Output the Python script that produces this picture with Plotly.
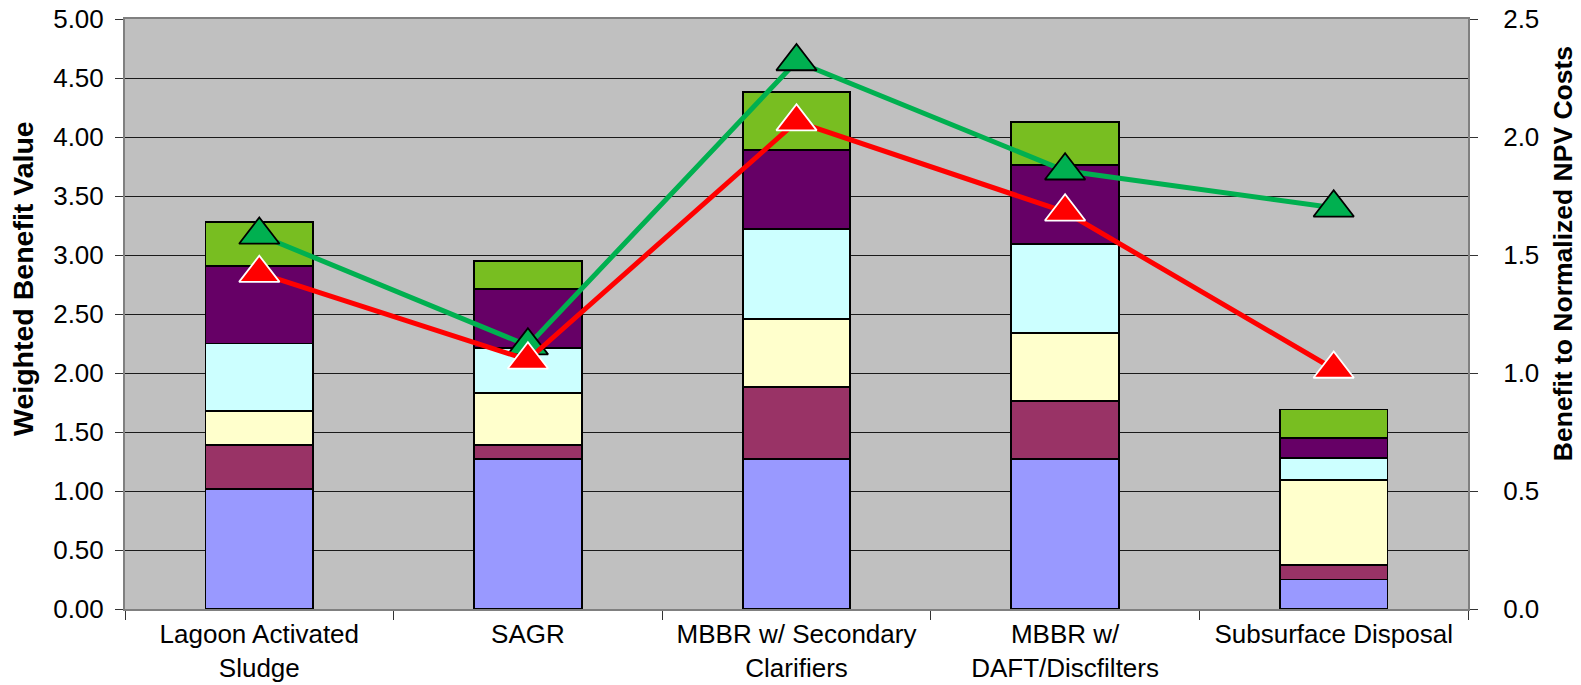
import plotly.graph_objects as go

# Treatment alternatives
categories = [
    "Lagoon Activated<br>Sludge",
    "SAGR",
    "MBBR w/ Secondary<br>Clarifiers",
    "MBBR w/<br>DAFT/Discfilters",
    "Subsurface Disposal",
]

# Weighted benefit components (stacked, bottom to top)
benefit_1 = [1.02, 1.27, 1.27, 1.27, 0.25]
benefit_2 = [0.37, 0.12, 0.61, 0.49, 0.12]
benefit_3 = [0.29, 0.44, 0.58, 0.58, 0.72]
benefit_4 = [0.57, 0.38, 0.76, 0.75, 0.19]
benefit_5 = [0.66, 0.50, 0.67, 0.67, 0.17]
benefit_6 = [0.37, 0.24, 0.49, 0.37, 0.24]

# Benefit to normalized NPV cost ratios (right axis)
ratio_green = [1.585, 1.116, 2.32, 1.857, 1.70]
ratio_red = [1.423, 1.056, 2.065, 1.683, 1.017]

left_ticks = [0, 0.5, 1, 1.5, 2, 2.5, 3, 3.5, 4, 4.5, 5]
right_ticks = [0, 0.5, 1, 1.5, 2, 2.5]

left_title = "Weighted Benefit Value"
right_title = "Benefit to Normalized NPV Costs"

FONT = "Arial, Liberation Sans, sans-serif"

stack = [
    ("Component 1", benefit_1, "#9999FF"),
    ("Component 2", benefit_2, "#993366"),
    ("Component 3", benefit_3, "#FFFFCC"),
    ("Component 4", benefit_4, "#CCFFFF"),
    ("Component 5", benefit_5, "#660066"),
    ("Component 6", benefit_6, "#78BE21"),
]

fig = go.Figure()
for name, vals, color in stack:
    fig.add_trace(go.Bar(
        x=categories, y=vals, name=name,
        marker=dict(color=color, line=dict(color="#000000", width=1.8)),
        yaxis="y",
    ))

fig.add_trace(go.Scatter(
    x=categories, y=ratio_green, mode="lines+markers", yaxis="y2",
    name="Ratio A",
    line=dict(color="#00B050", width=5),
    marker=dict(symbol="triangle-up", size=35, color="#00B050",
                line=dict(color="#000000", width=1.8)),
))
fig.add_trace(go.Scatter(
    x=categories, y=ratio_red, mode="lines+markers", yaxis="y2",
    name="Ratio B",
    line=dict(color="#FF0000", width=5),
    marker=dict(symbol="triangle-up", size=35, color="#FF0000",
                line=dict(color="#FFFFFF", width=1.8)),
))

# Axis titles placed as rotated annotations
fig.add_annotation(
    text=f"<b>{left_title}</b>", textangle=-90,
    xref="paper", yref="paper", x=-0.076, y=0.561,
    xanchor="center", yanchor="middle", showarrow=False,
    font=dict(family=FONT, size=28.5, color="#000000"),
)
fig.add_annotation(
    text=f"<b>{right_title}</b>", textangle=-90,
    xref="paper", yref="paper", x=1.0707, y=0.603,
    xanchor="center", yanchor="middle", showarrow=False,
    font=dict(family=FONT, size=26.5, color="#000000"),
)

fig.update_layout(
    width=1581, height=685,
    margin=dict(l=125, r=113, t=19, b=76),
    paper_bgcolor="#FFFFFF",
    plot_bgcolor="#C0C0C0",
    barmode="stack",
    bargap=0.6,
    showlegend=False,
    font=dict(family=FONT, size=26, color="#000000"),
    xaxis=dict(
        type="category", automargin=False,
        showline=True, linecolor="#808080", linewidth=2, mirror=True,
        ticks="outside", tickson="boundaries", ticklen=9, tickcolor="#333333",
        tickwidth=1,
        showgrid=False,
        tickfont=dict(family=FONT, size=26, color="#000000"),
        ticklabelstandoff=1,
    ),
    yaxis=dict(
        range=[0, 5], automargin=False,
        tickvals=left_ticks,
        ticktext=[f"{v:.2f}" for v in left_ticks],
        showline=True, linecolor="#808080", linewidth=2,
        ticks="outside", ticklen=8, tickcolor="#333333", tickwidth=1,
        showgrid=True, gridcolor="#1a1a1a", gridwidth=1,
        zeroline=False,
        tickfont=dict(family=FONT, size=26, color="#000000"),
        ticklabelstandoff=6,
    ),
    yaxis2=dict(
        range=[0, 2.5], automargin=False,
        overlaying="y", side="right",
        tickvals=right_ticks,
        ticktext=[f"{v:.1f}" for v in right_ticks],
        showline=True, linecolor="#808080", linewidth=2,
        ticks="outside", ticklen=8, tickcolor="#333333", tickwidth=1,
        showgrid=False, zeroline=False,
        tickfont=dict(family=FONT, size=26, color="#000000"),
        ticklabelstandoff=20,
    ),
)

fig.write_html("out.html")
